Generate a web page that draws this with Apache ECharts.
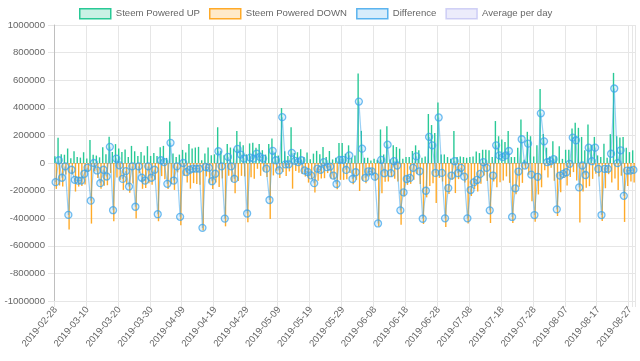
<!DOCTYPE html>
<html><head><meta charset="utf-8">
<script src="https://cdn.jsdelivr.net/npm/echarts@6/dist/echarts.min.js"></script>
<style>html,body{margin:0;padding:0;background:#fff}#c{width:640px;height:361px}</style>
</head><body><div id="c"></div>
<script>
// Dates: consecutive days 2019-02-28 .. 2019-08-28
const startDate = '2019-02-28';
const dayCount = 182;
const dates = [];
(function(){const d=new Date(startDate+'T00:00:00Z');for(let i=0;i<dayCount;i++){dates.push(d.toISOString().slice(0,10));d.setUTCDate(d.getUTCDate()+1);}})();

// values in thousands
const upK = [
49,183,63,60,105,34,85,44,39,78,
32,166,60,54,41,115,63,190,80,137,
105,80,98,44,124,85,51,80,54,122,
51,73,51,115,124,37,300,68,44,61,
95,76,137,105,112,117,20,68,112,56,
63,259,88,56,137,112,105,232,154,129,
63,142,146,110,137,93,61,137,178,76,
54,398,85,51,259,73,78,100,44,76,
27,68,88,63,116,43,87,26,38,145,
145,67,128,38,55,648,233,38,38,18,
30,23,243,62,267,26,128,116,104,30,
43,43,87,128,92,38,48,355,275,218,
438,62,62,43,30,231,43,48,43,38,
43,48,84,72,96,96,92,43,304,194,
170,152,231,43,43,111,316,23,226,194,
48,128,536,210,111,48,157,48,121,30,
96,96,250,292,255,189,92,279,128,189,
55,43,140,38,209,653,194,184,189,111,
79,92];
const downK = [
-188,-163,-170,-84,-481,-83,-207,-171,-166,-156,
-66,-439,-60,-108,-187,-164,-161,-73,-422,-105,
-122,-195,-157,-215,-148,-402,-75,-187,-181,-146,
-158,-122,-422,-95,-117,-188,-154,-195,-68,-451,
-95,-142,-186,-146,-153,-158,-490,-97,-146,-188,
-141,-174,-112,-459,-93,-136,-220,-130,-93,-97,
-429,-103,-114,-42,-93,-61,-102,-405,-90,-56,
-108,-66,-95,-61,-186,-58,-71,-80,-98,-142,
-117,-214,-129,-112,-110,-73,-113,-117,-190,-122,
-122,-117,-73,-154,-122,-203,-129,-146,-98,-78,
-129,-461,-220,-136,-134,-100,-115,-134,-447,-243,
-159,-151,-122,-80,-152,-442,-249,-166,-147,-290,
-108,-134,-463,-225,-121,-218,-117,-83,-142,-439,
-239,-188,-207,-151,-90,-131,-435,-134,-176,-139,
-127,-97,-144,-434,-227,-173,-144,-41,-86,-278,
-425,-228,-176,-53,-105,-35,-129,-384,-212,-109,
-163,-102,-66,-127,-432,-207,-179,-168,-115,-78,
-98,-420,-183,-81,-142,-113,-195,-92,-427,-166,
-134,-142];
const diffK = [
-139,20,-107,-24,-376,-49,-122,-127,-127,-78,
-34,-273,0,-54,-146,-49,-98,117,-342,32,
-17,-115,-59,-171,-24,-317,-24,-107,-127,-24,
-107,-49,-371,20,7,-151,146,-127,-24,-390,
0,-66,-49,-41,-41,-41,-470,-29,-34,-132,
-78,85,-24,-403,44,-24,-115,102,61,32,
-366,39,32,68,44,32,-41,-268,88,20,
-54,332,-10,-10,73,15,7,20,-54,-66,
-90,-146,-41,-49,6,-30,-26,-91,-152,23,
23,-50,55,-116,-67,445,104,-108,-60,-60,
-99,-438,23,-74,133,-74,13,-18,-343,-213,
-116,-108,-35,48,-60,-404,-201,189,128,-72,
330,-72,-401,-182,-91,13,-74,-35,-99,-401,
-196,-140,-123,-79,6,-35,-343,-91,128,55,
43,55,87,-391,-184,-62,172,-18,140,-84,
-377,-100,360,157,6,13,28,-336,-91,-79,
-67,-6,184,165,-177,-18,-87,111,13,111,
-43,-377,-43,-43,67,540,-1,92,-238,-55,
-55,-50];
const averagePerDay = [];
const seriesNames = ['Steem Powered UP','Steem Powered DOWN','Difference','Average per day'];
const yTicks = {min:-1000000, max:1000000, step:200000};

const K = 1000;
const up = upK.map(v=>v*K), down = downK.map(v=>v*K), diff = diffK.map(v=>v*K);
const lastIdx = dates.length-1;
const showIdx = (i)=> i%10===0 || i===lastIdx;
const FONT = 'Liberation Sans, Arial, Helvetica, sans-serif';
const grid = '#e6e6e6';
const gridColors = [];
for(let v=yTicks.min; v<=yTicks.max; v+=yTicks.step) gridColors.push(v===0?'#bfbfbf':grid);

const chart = echarts.init(document.getElementById('c'), null, {renderer:'canvas'});
chart.setOption({
  animation:false,
  textStyle:{fontFamily:FONT},
  legend:{
    top:3, left:74, icon:'rect', itemWidth:31, itemHeight:10, itemGap:9,
    textStyle:{color:'#666', fontSize:9.6, fontFamily:FONT},
    data:[
      {name:seriesNames[0], itemStyle:{color:'rgba(41,201,150,0.25)', borderColor:'#29c996', borderWidth:1.5}},
      {name:seriesNames[1], itemStyle:{color:'rgba(255,170,40,0.25)', borderColor:'#ffaa28', borderWidth:1.5}},
      {name:seriesNames[2], itemStyle:{color:'rgba(54,162,235,0.2)', borderColor:'rgba(54,162,235,0.8)', borderWidth:1.5}},
      {name:seriesNames[3], itemStyle:{color:'rgba(180,180,240,0.25)', borderColor:'rgba(180,180,240,0.6)', borderWidth:1.5}}
    ]
  },
  grid:{left:54, right:5, top:25, bottom:60},
  xAxis:{
    type:'category', data:dates, boundaryGap:true,
    axisLine:{show:false, onZero:false},
    axisTick:{show:true, interval:(i)=>showIdx(i), length:6, lineStyle:{color:grid}},
    splitLine:{show:true, interval:(i)=>showIdx(i), lineStyle:{color:grid, width:1}},
    axisLabel:{interval:(i)=>showIdx(i), rotate:50, color:'#666', fontSize:9.6, fontFamily:FONT, margin:7}
  },
  yAxis:{
    type:'value', min:yTicks.min, max:yTicks.max, interval:yTicks.step,
    axisLine:{show:true, lineStyle:{color:'#bfbfbf'}},
    axisTick:{show:true, length:6, lineStyle:{color:grid}},
    splitLine:{show:true, lineStyle:{color:gridColors}},
    axisLabel:{color:'#666', fontSize:9.6, fontFamily:FONT, margin:9, formatter:(v)=>String(v)}
  },
  series:[
    {name:seriesNames[0], type:'bar', data:up, barGap:'5%', barCategoryGap:'10%', itemStyle:{color:'#29c996'}},
    {name:seriesNames[1], type:'bar', data:down, itemStyle:{color:'#ffaa28'}},
    {name:seriesNames[2], type:'line', data:diff, symbol:'circle', symbolSize:7, showSymbol:true, showAllSymbol:true,
     lineStyle:{color:'rgba(54,162,235,0.5)', width:1.2},
     itemStyle:{color:'rgba(54,162,235,0.15)', borderColor:'rgba(54,162,235,0.7)', borderWidth:1.3}, z:3},
    {name:seriesNames[3], type:'line', data:averagePerDay, itemStyle:{color:'rgba(180,180,240,0.6)'}}
  ]
});
</script></body></html>
